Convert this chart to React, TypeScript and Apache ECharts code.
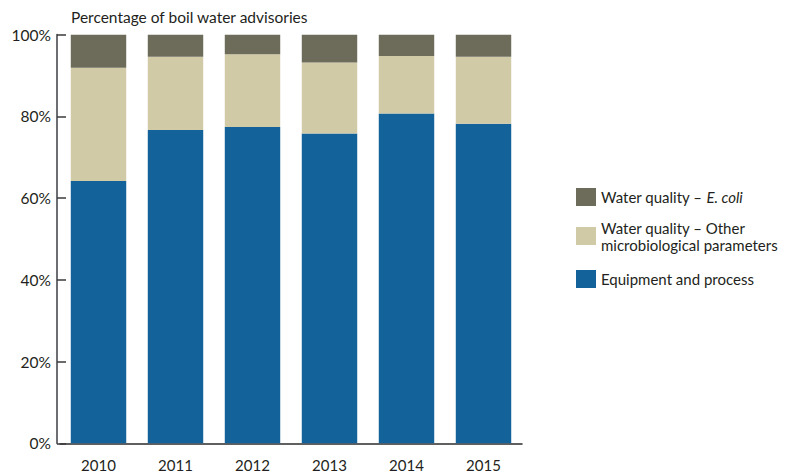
import React, { useEffect, useRef } from "react";
import * as echarts from "echarts";

const years = ["2010", "2011", "2012", "2013", "2014", "2015"];
const equipment = [64.2, 76.7, 77.4, 75.8, 80.7, 78.2];
const otherMicro = [27.7, 17.9, 17.8, 17.4, 14.1, 16.4];
const eColi = [8.1, 5.4, 4.8, 6.8, 5.2, 5.4];
const yTicks = [0, 20, 40, 60, 80, 100];

const NAME_EQ = "Equipment and process";
const NAME_OTHER = "Water quality – Other\nmicrobiological parameters";
const NAME_ECOLI = "Water quality – E. coli";

const FONT = "Lato, 'Open Sans', sans-serif";
const TXT = "#231f20";

export default function App() {
  const ref = useRef<HTMLDivElement>(null);
  useEffect(() => {
    if (!ref.current) return;
    const chart = echarts.init(ref.current, null, { renderer: "svg" });
    const legendBase = {
      orient: "vertical",
      left: 576,
      itemWidth: 20,
      itemHeight: 18,
      itemGap: 0,
      icon: "rect",
      selectedMode: false,
      textStyle: {
        fontFamily: FONT,
        fontSize: 15,
        color: TXT,
        lineHeight: 17,
        rich: {
          n: { fontFamily: FONT, fontSize: 15, color: TXT },
          i: { fontFamily: FONT, fontSize: 15, color: TXT, fontStyle: "italic" },
        },
      },
      padding: 0,
    };
    chart.setOption({
      animation: false,
      textStyle: { fontFamily: FONT },
      title: {
        text: "Percentage of boil water advisories",
        left: 71,
        top: 9,
        textStyle: { fontFamily: FONT, fontSize: 15.5, fontWeight: "normal", color: TXT },
        padding: 0,
      },
      legend: [
        {
          ...legendBase,
          top: 188,
          data: [NAME_ECOLI],
          formatter: () => "{n|Water quality – }{i|E. coli}",
        },
        { ...legendBase, top: 219, data: [NAME_OTHER] },
        { ...legendBase, top: 270, data: [NAME_EQ] },
      ],
      grid: { left: 60, right: 280, top: 34.7, bottom: 30.7, containLabel: false },
      xAxis: {
        type: "category",
        data: years,
        axisLine: { lineStyle: { color: "#2b2b2b", width: 1.5 } },
        axisTick: {
          inside: true,
          length: 8,
          interval: (index: number) => index !== 0,
          lineStyle: { color: "#2b2b2b", width: 1.5 },
        },
        axisLabel: { fontFamily: FONT, fontSize: 15, color: TXT, margin: 14 },
      },
      yAxis: {
        type: "value",
        min: 0,
        max: 100,
        interval: 20,
        offset: 3,
        axisLine: { show: true, lineStyle: { color: "#6d6e71", width: 2 } },
        axisTick: { show: true, inside: true, length: 9, lineStyle: { color: "#3a3a3a", width: 1.5 } },
        splitLine: { show: false },
        axisLabel: {
          fontFamily: FONT,
          fontSize: 15.5,
          color: TXT,
          margin: 6,
          formatter: (v: number) => (yTicks.includes(v) ? v + "%" : ""),
        },
      },
      series: [
        {
          name: NAME_EQ,
          type: "bar",
          stack: "total",
          data: equipment,
          barCategoryGap: "28%",
          itemStyle: { color: "#14629a" },
        },
        {
          name: NAME_OTHER,
          type: "bar",
          stack: "total",
          data: otherMicro,
          itemStyle: { color: "#d0caa7" },
        },
        {
          name: NAME_ECOLI,
          type: "bar",
          stack: "total",
          data: eColi,
          itemStyle: { color: "#6d6b5a" },
        },
      ],
    });
    return () => chart.dispose();
  }, []);
  return (
    <div
      ref={ref}
      style={{ position: "absolute", left: 0, top: 0, width: 802, height: 474 }}
    />
  );
}
